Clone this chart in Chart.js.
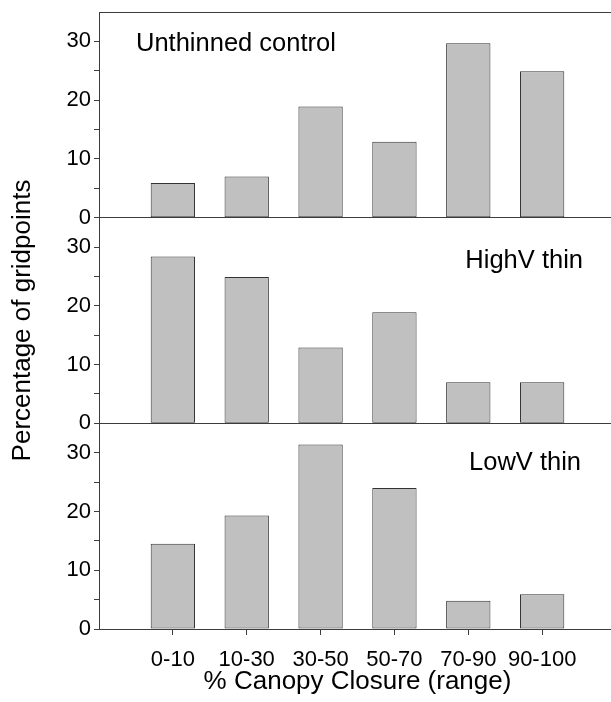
<!DOCTYPE html>
<html lang="en">
<head>
  <meta charset="UTF-8" />
  <title>Canopy closure</title>
  <script src="https://cdn.jsdelivr.net/npm/chart.js"></script>
  <style>
    html, body { margin: 0; padding: 0; background: #fff; overflow: hidden; }
    #wrap { width: 616px; height: 702px; }
  </style>
</head>
<body>
  <div id="wrap"><canvas id="grafico" width="616" height="702"></canvas></div>

  <script>
    // categorias e valores (% de pontos)
    const categorias = ['0-10', '10-30', '30-50', '50-70', '70-90', '90-100'];
    const unthinned = [5.9, 7.0, 18.9, 12.9, 29.7, 24.9];
    const highV = [28.4, 24.9, 12.9, 18.9, 7.0, 7.0];
    const lowV = [14.5, 19.3, 31.4, 24.0, 4.8, 5.9];
    const painelNomes = ['Unthinned control', 'HighV thin', 'LowV thin'];
    const yTicks = [0, 10, 20, 30];

    const FONTE = "Arial, 'Liberation Sans', sans-serif";
    const LINHA = '#3c3c3c';
    const Y_MAX = 35;

    // first and last slots are empty so bars sit one slot in from the axis
    const labelsX = ['', ...categorias, ''];
    const comVazios = arr => [null, ...arr, null];

    function eixoY(comTitulo, topo) {
      return {
        type: 'linear',
        position: 'left',
        stack: 'paineis',
        stackWeight: 1,
        min: 0,
        max: Y_MAX,
        ticks: {
          stepSize: 5,
          autoSkip: false,
          padding: 3,
          color: '#000',
          font: { family: FONTE, size: 22 },
          callback: v => yTicks.includes(v) ? String(v) : ''
        },
        grid: {
          drawOnChartArea: true,
          tickLength: 5,
          lineWidth: 1,
          color: ctx => (ctx.tick && (ctx.tick.value === 0 || (topo && ctx.tick.value === Y_MAX))) ? LINHA : 'rgba(0,0,0,0)',
          tickColor: ctx => (ctx.tick && ctx.tick.value === Y_MAX) ? 'rgba(0,0,0,0)' : LINHA
        },
        border: { display: true, color: LINHA, width: 1 },
        title: {
          display: comTitulo,
          text: 'Percentage of gridpoints',
          color: '#000',
          font: { family: FONTE, size: 26 },
          padding: { top: 7, bottom: 0 }
        },
        afterFit: s => { s.width = 99; s.paddingTop = 0; s.paddingBottom = 0; }
      };
    }

    // panel names
    const notasPainel = {
      id: 'notasPainel',
      afterDraw(chart) {
        const ctx = chart.ctx;
        const xs = chart.scales.x;
        ctx.save();
        // baseline pokes a bit left of the y axis
        ctx.strokeStyle = LINHA;
        ctx.lineWidth = 1;
        ctx.beginPath();
        ctx.moveTo(xs.left - 5, Math.round(xs.top) + 0.5);
        ctx.lineTo(xs.left, Math.round(xs.top) + 0.5);
        ctx.stroke();

        ctx.fillStyle = '#000';
        ctx.font = '25.5px ' + FONTE;
        ctx.textBaseline = 'alphabetic';
        const yT = chart.scales.yTop, yM = chart.scales.yMid, yB = chart.scales.yBot;
        ctx.textAlign = 'left';
        ctx.fillText(painelNomes[0], 136, yT.getPixelForValue(28.4));
        ctx.textAlign = 'right';
        ctx.fillText(painelNomes[1], 583, yM.getPixelForValue(26.4));
        ctx.fillText(painelNomes[2], 581, yB.getPixelForValue(27));
        ctx.restore();
      }
    };

    const barra = {
      backgroundColor: '#c0c0c0',
      borderColor: '#333',
      borderWidth: 1,
      borderSkipped: false,
      grouped: false,
      barPercentage: 0.6,
      categoryPercentage: 1
    };

    new Chart(document.getElementById('grafico'), {
      type: 'bar',
      data: {
        labels: labelsX,
        datasets: [
          { ...barra, label: painelNomes[0], data: comVazios(unthinned), yAxisID: 'yTop' },
          { ...barra, label: painelNomes[1], data: comVazios(highV), yAxisID: 'yMid' },
          { ...barra, label: painelNomes[2], data: comVazios(lowV), yAxisID: 'yBot' }
        ]
      },
      options: {
        responsive: false,
        animation: false,
        devicePixelRatio: 1,
        layout: { padding: { top: 12, right: 0, bottom: 0, left: 0 } },
        plugins: { legend: { display: false }, tooltip: { enabled: false } },
        scales: {
          x: {
            type: 'category',
            offset: false,
            ticks: {
              autoSkip: false,
              maxRotation: 0,
              padding: 12,
              color: '#000',
              font: { family: FONTE, size: 22 }
            },
            grid: {
              offset: false,
              drawOnChartArea: false,
              tickLength: 6,
              tickWidth: 1,
              tickColor: ctx => (ctx.index > 0 && ctx.index < labelsX.length - 1) ? LINHA : 'rgba(0,0,0,0)'
            },
            border: { display: true, color: LINHA, width: 1 },
            title: {
              display: true,
              text: '% Canopy Closure (range)',
              color: '#000',
              font: { family: FONTE, size: 26 },
              padding: { top: 0, bottom: 5 }
            },
            afterFit: s => { s.height = 73; s.paddingLeft = 0; s.paddingRight = 0; }
          },
          yBot: eixoY(false, false),
          yMid: eixoY(true, false),
          yTop: eixoY(false, true)
        }
      },
      plugins: [notasPainel]
    });
  </script>
</body>
</html>
